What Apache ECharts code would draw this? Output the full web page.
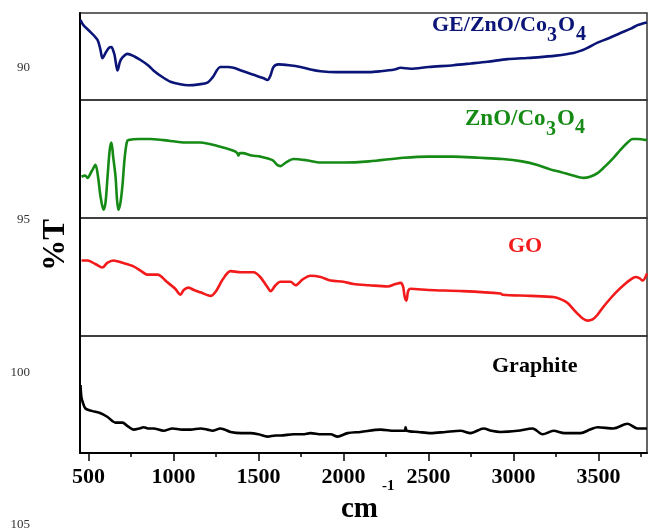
<!DOCTYPE html>
<html><head><meta charset="utf-8">
<script src="https://cdn.jsdelivr.net/npm/echarts@6/dist/echarts.min.js"></script>
<style>html,body{margin:0;padding:0;background:#fff}#c{width:648px;height:531px}</style>
</head><body><div id="c"></div>
<script>
// ---- data (x in cm^-1, y = relative %T within each panel) ----
const geX = [453,470,512,553,570,582,600,620,635,645,653,665,671,685,700,729,770,806,850,882,930,982,1040,1088,1150,1200,1230,1276,1320,1353,1410,1471,1530,1553,1570,1588,1618,1680,1747,1806,1865,1960,2059,2150,2218,2300,2335,2394,2500,2647,2750,2847,2965,3050,3141,3250,3353,3400,3435,3494,3560,3629,3690,3729,3760,3785];
const geY = [92,86,78,69,58,48,54,60,61,57,52,38,34,44,49,53,50,46,40,34,27,21,18,17,18,20,26,38,38,37,33,29,25,23,28,38,41,40,38,35,33,32,32,32,33,35,37,36,38,40,42,44,47,48,49,51,54,57,60,66,71,77,82,86,88,89];

const znX = [459,480,494,520,541,556,571,588,600,612,625,635,645,659,668,676,688,700,712,725,735,800,865,941,1000,1059,1159,1259,1353,1375,1382,1390,1406,1460,1512,1582,1610,1629,1660,1706,1780,1865,2000,2150,2353,2500,2647,2800,2935,3050,3141,3220,3276,3350,3412,3450,3494,3540,3588,3630,3671,3700,3729,3785];
const znY = [35,36,34,40,45,35,18,7,13,35,58,64,52,35,15,7,13,28,50,64,66,67,67,66,65,64,64,61,57,55,53,55,55,53,52,49,45,44,47,50,49,47,47,48,51,52,52,51,50,48,45,41,39,36,34,35,38,44,51,58,64,67,67,66];

const goX = [459,494,540,582,610,647,700,765,810,847,906,960,1010,1041,1060,1088,1120,1159,1218,1250,1290,1335,1394,1471,1510,1550,1571,1600,1629,1688,1718,1760,1806,1865,1924,2000,2059,2150,2259,2306,2335,2350,2360,2370,2380,2395,2500,2700,2924,2935,3100,3235,3280,3318,3350,3376,3405,3435,3465,3494,3530,3571,3610,3647,3690,3718,3740,3759,3785];
const goY = [64,64,61,58,62,64,62,59,55,52,52,46,40,35,39,41,39,37,34,38,48,55,54,54,50,42,38,43,46,46,43,48,51,50,47,46,44,43,42,44,45,42,33,30,38,40,39,38,36,35,34,33,31,28,23,19,15,13,14,18,25,32,38,43,48,50,49,47,53];

const grX = [453,458,465,482,520,571,610,659,700,730,765,800,824,850,882,941,994,1050,1100,1159,1200,1229,1276,1300,1335,1400,1453,1500,1553,1600,1629,1706,1760,1806,1870,1924,1965,2024,2100,2218,2300,2360,2365,2372,2440,2512,2600,2688,2747,2824,2870,2924,3024,3112,3171,3235,3300,3394,3450,3494,3588,3671,3729,3785];
const grY = [58,48,44,38,36,34,31,26,26,23,20,21,22,21,21,19,21,20,20,21,20,19,21,20,18,17,17,16,14,15,15,16,16,17,16,16,14,17,18,20,19,19,22,19,18,17,18,19,17,21,19,18,19,21,16,19,17,17,20,22,21,25,21,21];

const xMajorTicks = [500,1000,1500,2000,2500,3000,3500];
const xMinorTicks = [750,1250,1750,2250,2750,3250,3750];
const yTickLabels = [90,95,100,105];
const seriesNames = ['GE/ZnO/Co3O4','ZnO/Co3O4','GO','Graphite'];

// ---- chart ----
const pair = (xs, ys) => xs.map((x, i) => [x, ys[i]]);
const serif = '"Liberation Serif","Times New Roman",serif';
const panels = [
  {x: geX, y: geY, color: '#0b1577', top: 13, height: 87},
  {x: znX, y: znY, color: '#158a15', top: 100, height: 118},
  {x: goX, y: goY, color: '#f21a1a', top: 218, height: 118},
  {x: grX, y: grY, color: '#000000', top: 336, height: 117}
];
const XMIN = 450, XMAX = 3785;

const grid = panels.map(p => ({left: 80, right: 1, top: p.top, height: p.height, show: true, borderColor: '#333', borderWidth: 1.5}));
grid.push({left: 80, right: 1, top: 336, height: 117, show: false}); // minor ticks
grid.push({left: 31, width: 2, top: 67.5, bottom: 4.5, show: false}); // left % labels

const xAxis = panels.map((p, i) => ({
  gridIndex: i, type: 'value', min: XMIN, max: XMAX,
  axisLine: {show: i === 3, onZero: false, lineStyle: {color: '#000', width: 2}},
  axisTick: {show: i === 3, customValues: xMajorTicks, length: 8, lineStyle: {color: '#000', width: 1.5}},
  axisLabel: {show: i === 3, customValues: xMajorTicks, formatter: v => String(v),
    fontFamily: serif, fontWeight: 'bold', fontSize: 22, color: '#000', margin: 13},
  splitLine: {show: false}
}));
xAxis.push({gridIndex: 4, type: 'value', min: XMIN, max: XMAX,
  axisLine: {show: false}, axisLabel: {show: false}, splitLine: {show: false},
  axisTick: {show: true, customValues: xMinorTicks, length: 4, lineStyle: {color: '#000', width: 1.5}}});
xAxis.push({gridIndex: 5, type: 'value', show: false, min: 0, max: 1});

const yAxis = panels.map((p, i) => ({
  gridIndex: i, type: 'value', min: 0, max: 100,
  axisLine: {show: true, lineStyle: {color: '#000', width: 2}},
  axisTick: {show: false}, axisLabel: {show: false}, splitLine: {show: false}
}));
yAxis.push({gridIndex: 4, type: 'value', show: false, min: 0, max: 100});
yAxis.push({gridIndex: 5, type: 'value', inverse: true, min: yTickLabels[0], max: yTickLabels[yTickLabels.length - 1], interval: 5,
  axisLine: {show: false}, axisTick: {show: false}, splitLine: {show: false},
  axisLabel: {fontFamily: serif, fontSize: 13, color: '#333', margin: 1}});

const series = panels.map((p, i) => ({
  type: 'line', name: seriesNames[i], xAxisIndex: i, yAxisIndex: i,
  data: pair(p.x, p.y), showSymbol: false, smooth: 0.3, silent: true,
  lineStyle: {color: p.color, width: 2.6}
}));

function txt(text, x, y, size, color, extra) {
  return Object.assign({type: 'text', x: x, y: y, z: 100,
    style: {text: text, fill: color, font: 'bold ' + size + 'px ' + serif,
      align: 'left', verticalAlign: 'middle', textAlign: 'left', textVerticalAlign: 'middle'}}, extra || {});
}
const graphic = [
  txt('GE/ZnO/Co', 432, 25.5, 22, '#0b1577'), txt('3', 547, 36, 20, '#0b1577'),
  txt('O', 558, 25.5, 22, '#0b1577'), txt('4', 576, 35, 20, '#0b1577'),
  txt('ZnO/Co', 465, 119.5, 23, '#158a15'), txt('3', 546, 130, 20, '#158a15'),
  txt('O', 557, 119.5, 23, '#158a15'), txt('4', 575, 128, 20, '#158a15'),
  txt('GO', 508, 246.5, 22, '#f21a1a'),
  txt('Graphite', 492, 366.5, 22, '#000'),
  txt('cm', 341, 510, 29, '#000'), txt('-1', 382, 486, 15, '#000'),
  {type: 'text', x: 56, y: 245, rotation: Math.PI / 2, z: 100,
    style: {text: '%T', fill: '#000', font: 'bold 31px ' + serif, align: 'center', verticalAlign: 'middle', textAlign: 'center', textVerticalAlign: 'middle'}}
];

const chart = echarts.init(document.getElementById('c'), null, {renderer: 'canvas'});
chart.setOption({animation: false, backgroundColor: '#fff', grid, xAxis, yAxis, series, graphic});
</script></body></html>
